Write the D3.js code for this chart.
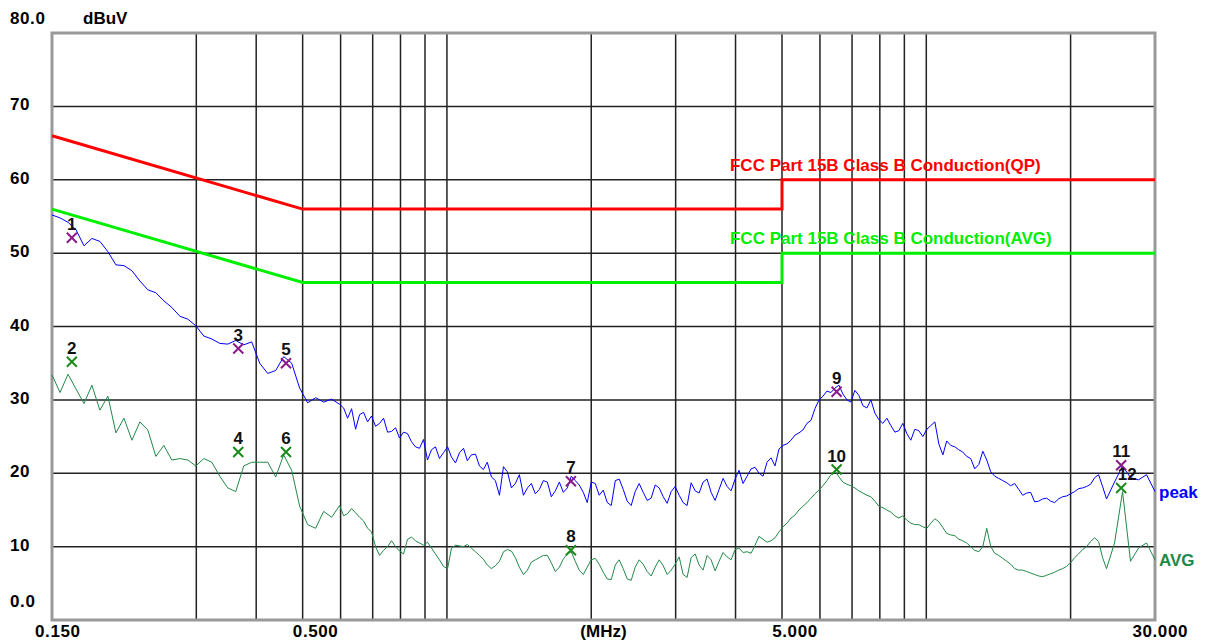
<!DOCTYPE html>
<html>
<head>
<meta charset="utf-8">
<script src="https://cdnjs.cloudflare.com/ajax/libs/d3/7.8.5/d3.min.js"></script>
<style>
  body { margin: 0; background: #fff; }
  text { font-family: "Liberation Sans", Arial, sans-serif; font-weight: bold; }
</style>
</head>
<body>
<div id="vis"></div>
<script>
var margin = {top: 33, right: 53, bottom: 22, left: 52},
    width = 1208 - margin.left - margin.right,
    height = 642 - margin.top - margin.bottom;

// sweep frequencies (MHz)
var freq = [
  0.1500, 0.1559, 0.1620, 0.1683, 0.1749, 0.1817,
  0.1888, 0.1962, 0.2039, 0.2119, 0.2202, 0.2288,
  0.2377, 0.2470, 0.2567, 0.2667, 0.2772, 0.2880,
  0.2993, 0.3110, 0.3232, 0.3358, 0.3489, 0.3626,
  0.3768, 0.3915, 0.4068, 0.4228, 0.4393, 0.4565,
  0.4743, 0.4929, 0.5122, 0.5322, 0.5530, 0.5747,
  0.5972, 0.6205, 0.6448, 0.6700, 0.6962, 0.7235,
  0.7518, 0.7812, 0.8118, 0.8435, 0.8765, 0.9108,
  0.9464, 0.9835, 1.022, 1.062, 1.103, 1.147,
  1.191, 1.238, 1.287, 1.337, 1.389, 1.444,
  1.500, 1.559, 1.620, 1.683, 1.749, 1.817,
  1.888, 1.962, 2.039, 2.119, 2.202, 2.288,
  2.377, 2.470, 2.567, 2.667, 2.772, 2.880,
  2.993, 3.110, 3.232, 3.358, 3.489, 3.626,
  3.768, 3.915, 4.068, 4.228, 4.393, 4.565,
  4.743, 4.929, 5.122, 5.322, 5.530, 5.747,
  5.972, 6.205, 6.448, 6.700, 6.962, 7.235,
  7.518, 7.812, 8.118, 8.435, 8.765, 9.108,
  9.464, 9.835, 10.22, 10.62, 11.03, 11.47,
  11.91, 12.38, 12.87, 13.37, 13.89, 14.44,
  15.00, 15.59, 16.20, 16.83, 17.49, 18.17,
  18.88, 19.62, 20.39, 21.19, 22.02, 22.88,
  23.77, 24.70, 25.67, 26.67, 27.72, 28.80,
  30.00
];

// peak trace (dBuV)
var peak = [
  55.2, 54.8, 54.2, 53.2, 51.0, 52.0, 51.6, 50.2, 48.4, 48.3,
  47.6, 46.2, 45.0, 44.6, 43.5, 42.6, 41.4, 41.0, 40.1, 38.7,
  38.3, 37.7, 37.6, 38.1, 37.5, 37.9, 35.0, 33.6, 34.0, 35.9,
  35.0, 31.6, 29.6, 30.3, 29.7, 30.1, 29.4, 27.5, 26.0, 28.3,
  27.8, 26.8, 25.6, 26.2, 25.6, 24.3, 23.4, 21.8, 23.6, 22.8,
  22.2, 22.8, 21.7, 22.6, 20.5, 19.5, 17.0, 20.2, 18.6, 17.0,
  18.6, 17.8, 18.8, 17.6, 17.4, 19.6, 18.4, 16.0, 18.6, 17.7,
  15.6, 19.2, 16.2, 17.5, 17.4, 16.6, 18.0, 15.9, 18.2, 16.0,
  18.7, 17.3, 19.2, 16.3, 19.3, 17.6, 20.4, 19.6, 20.8, 19.6,
  22.1, 23.3, 24.0, 25.2, 25.9, 27.2, 30.0, 31.2, 31.6, 30.8,
  29.7, 30.6, 28.9, 28.2, 26.8, 26.5, 25.8, 25.4, 26.0, 25.0,
  26.5, 24.0, 24.4, 23.6, 22.9, 22.0, 21.2, 21.8, 19.6, 19.0,
  18.3, 17.8, 17.3, 16.1, 16.5, 16.2, 16.5, 16.9, 17.5, 18.0,
  18.5, 19.8, 16.5, 18.8, 21.0, 19.4, 19.1, 19.8, 17.5
];

// average trace (dBuV)
var avg = [
  33.4, 31.0, 33.5, 31.5, 29.5, 32.0, 28.6, 30.5, 25.5, 27.5,
  24.5, 27.0, 25.9, 22.3, 23.8, 21.8, 22.0, 21.8, 21.0, 22.0,
  21.5, 19.6, 18.0, 17.5, 21.0, 21.5, 21.5, 21.5, 19.5, 22.5,
  20.4, 15.5, 13.0, 12.5, 14.8, 14.0, 15.6, 14.5, 14.6, 13.5,
  12.0, 8.8, 10.0, 10.0, 9.0, 11.3, 10.5, 10.6, 9.0, 7.3,
  9.8, 10.1, 10.3, 9.3, 8.3, 7.0, 8.0, 9.6, 8.5, 6.2,
  7.9, 8.5, 8.8, 6.6, 8.3, 9.3, 6.8, 7.2, 8.4, 6.5,
  5.5, 8.2, 5.6, 7.2, 7.6, 6.0, 8.2, 6.2, 7.6, 6.2,
  8.5, 7.5, 8.8, 6.7, 9.2, 8.2, 9.8, 9.3, 10.2, 11.0,
  10.8, 12.0, 13.2, 14.3, 15.5, 16.6, 17.7, 19.0, 20.3, 18.8,
  18.3, 17.6, 17.0, 16.2, 15.3, 14.7, 13.9, 13.6, 13.0, 12.7,
  13.2, 13.4, 11.8, 11.5, 10.8, 10.0, 9.3, 12.5, 9.1, 8.4,
  7.6, 6.8, 6.6, 6.2, 5.9, 6.3, 6.8, 7.3, 8.5, 9.6,
  10.7, 10.7, 7.0, 10.5, 17.5, 8.0, 9.8, 10.5, 8.2
];

// extra sweep points in between, 0.6 - 23 MHz
var freqMid = [
  0.6088, 0.6325, 0.6573, 0.6830, 0.7097, 0.7375, 0.7664, 0.7963, 0.8275, 0.8598,
  0.8935, 0.9284, 0.9647, 1.003, 1.042, 1.083, 1.124, 1.169, 1.214, 1.262,
  1.312, 1.363, 1.416, 1.472, 1.529, 1.589, 1.651, 1.716, 1.783, 1.852,
  1.925, 2.000, 2.078, 2.160, 2.245, 2.332, 2.423, 2.518, 2.617, 2.719,
  2.826, 2.936, 3.051, 3.170, 3.295, 3.423, 3.557, 3.696, 3.841, 3.991,
  4.147, 4.310, 4.478, 4.653, 4.835, 5.024, 5.221, 5.425, 5.637, 5.858,
  6.088, 6.325, 6.573, 6.830, 7.097, 7.375, 7.664, 7.963, 8.275, 8.598,
  8.935, 9.284, 9.647, 10.03, 10.42, 10.83, 11.24, 11.69, 12.14, 12.62,
  13.12, 13.63, 14.16, 14.72, 15.29, 15.89, 16.51, 17.16, 17.83, 18.52,
  19.25, 20.00, 20.78, 21.60, 22.45, 23.32
];

var peakMid = [
  28.9, 28.8, 28.0, 27.0, 26.4, 27.5, 25.7, 24.8, 25.4, 23.6,
  24.6, 23.2, 22.0, 23.6, 21.4, 23.4, 22.5, 21.0, 21.5, 19.0,
  20.9, 18.0, 19.8, 18.0, 17.2, 19.0, 16.8, 18.8, 18.0, 19.0,
  17.4, 18.8, 17.0, 16.0, 19.0, 17.8, 15.6, 18.6, 16.3, 18.4,
  16.8, 17.5, 17.0, 15.6, 17.6, 18.8, 17.4, 17.8, 18.2, 19.2,
  18.6, 20.6, 20.0, 21.5, 21.0, 23.8, 24.5, 25.5, 26.8, 28.8,
  30.5, 31.0, 32.0, 30.0, 31.3, 29.2, 30.0, 27.3, 27.5, 25.6,
  26.8, 24.5, 25.8, 26.0, 27.0, 22.5, 23.8, 23.2, 22.3, 20.6,
  23.0, 20.2, 19.3, 18.7, 18.6, 17.0, 17.4, 16.2, 16.6, 16.0,
  16.8, 17.2, 17.9, 18.2, 19.4, 18.2
];

var avgMid = [
  14.2, 15.2, 14.0, 12.5, 10.0, 9.5, 10.8, 9.4, 11.0, 10.8,
  10.2, 9.8, 8.2, 7.0, 10.2, 10.0, 9.8, 8.8, 7.5, 7.4,
  9.3, 9.4, 7.2, 6.8, 8.2, 8.8, 7.8, 7.2, 9.0, 8.0,
  6.2, 8.2, 7.6, 5.6, 7.5, 7.0, 5.4, 8.2, 6.6, 7.2,
  7.4, 6.8, 8.6, 5.8, 9.0, 6.8, 8.2, 8.0, 8.6, 9.6,
  9.2, 9.1, 11.4, 10.6, 11.2, 12.7, 13.9, 15.0, 16.0, 17.2,
  18.3, 19.8, 19.5, 18.5, 18.0, 17.3, 16.8, 15.5, 15.0, 14.2,
  14.2, 13.2, 13.0, 12.5, 13.8, 12.6, 11.6, 11.0, 10.5, 9.5,
  10.0, 10.0, 8.8, 8.0, 7.0, 6.8, 6.4, 6.0, 6.1, 6.5,
  7.0, 7.8, 9.0, 10.0, 11.2, 8.5
];

// FCC Part 15B class B limits
var limitFreq = [0.15, 0.5, 5, 5, 30];
var limitQP = [66, 56, 56, 60, 60];
var limitAVG = [56, 46, 46, 50, 50];

// marked points
var markFreq = [0.165, 0.165, 0.367, 0.367, 0.4616, 0.4616, 1.814, 1.814, 6.50, 6.50, 25.5, 25.5];
var markLevel = [52.1, 35.2, 37.0, 22.9, 35.0, 22.9, 18.9, 9.5, 31.1, 20.5, 21.1, 18.0];
var markType = ["peak", "avg", "peak", "avg", "peak", "avg", "peak", "avg", "peak", "avg", "peak", "avg"];

var gridFreq = [0.3, 0.4, 0.5, 0.6, 0.7, 0.8, 0.9, 1, 2, 3, 4, 5, 6, 7, 8, 9, 10, 20];
var gridLevel = [10, 20, 30, 40, 50, 60, 70];
var yTicks = [0, 10, 20, 30, 40, 50, 60, 70, 80];
var xTicks = [0.15, 0.5, 5, 30];
var xTickText = ["0.150", "0.500", "5.000", "30.000"];

// one sorted sweep table
var sweep = d3.zip(freq, peak, avg)
    .concat(d3.zip(freqMid, peakMid, avgMid))
    .sort(function(a, b) { return a[0] - b[0] })

var x = d3.scaleLog().domain([0.15, 30]).range([0, width]);
var y = d3.scaleLinear().domain([0, 80]).range([height, 0]);

var svg = d3.select("#vis").append("svg")
    .attr("width", width + margin.left + margin.right)
    .attr("height", height + margin.top + margin.bottom)
  .append("g")
    .attr("transform", "translate(" + margin.left + "," + margin.top + ")");

// grid
svg.selectAll(".vgrid")
    .data(gridFreq)
    .enter().append("line")
    .attr("x1", function(d) { return x(d) }).attr("x2", function(d) { return x(d) })
    .attr("y1", 0).attr("y2", height)
    .attr("stroke", "#222").attr("stroke-width", 1.5)

svg.selectAll(".hgrid")
    .data(gridLevel)
    .enter().append("line")
    .attr("x1", 0).attr("x2", width)
    .attr("y1", function(d) { return y(d) }).attr("y2", function(d) { return y(d) })
    .attr("stroke", "#222").attr("stroke-width", 1.5)

// frame
svg.append("rect")
    .attr("width", width).attr("height", height)
    .attr("fill", "none").attr("stroke", "#999").attr("stroke-width", 3)

// axis text
svg.selectAll(".ylab")
    .data(yTicks)
    .enter().append("text")
    .attr("x", -42)
    .attr("y", function(d) {
      if (d == 80) return y(d) - 9;
      if (d == 0) return y(d) - 13;
      return y(d) + 4;
    })
    .style("font-size", "17px")
    .style("letter-spacing", "0.6px")
    .text(function(d) { return (d == 80 || d == 0) ? d.toFixed(1) : d })

svg.append("text")
    .attr("x", 31).attr("y", -9)
    .style("font-size", "17px")
    .text("dBuV")

svg.selectAll(".xlab")
    .data(xTicks)
    .enter().append("text")
    .attr("x", function(d, i) {
      if (i == 0) return x(d) - 17;
      if (i == xTicks.length - 1) return x(d) + 33;
      return x(d) + 13;
    })
    .attr("y", height + 17)
    .attr("text-anchor", function(d, i) { return i == 0 ? "start" : (i == xTicks.length - 1 ? "end" : "middle") })
    .style("font-size", "17px")
    .style("letter-spacing", "0.6px")
    .text(function(d, i) { return xTickText[i] })

svg.append("text")
    .attr("x", width / 2).attr("y", height + 17)
    .attr("text-anchor", "middle")
    .style("font-size", "17px")
    .text("(MHz)")

// limit lines
var limLine = d3.line()
    .x(function(d) { return x(d[0]) })
    .y(function(d) { return y(d[1]) })

svg.append("path")
    .datum(d3.zip(limitFreq, limitQP))
    .attr("d", limLine)
    .attr("fill", "none").attr("stroke", "#ff0000").attr("stroke-width", 3)

svg.append("path")
    .datum(d3.zip(limitFreq, limitAVG))
    .attr("d", limLine)
    .attr("fill", "none").attr("stroke", "#00ee00").attr("stroke-width", 3)

svg.append("text")
    .attr("x", x(5) - 52).attr("y", y(60) - 9)
    .style("font-size", "17px")
    .attr("fill", "#ff0000")
    .text("FCC Part 15B Class B Conduction(QP)")

svg.append("text")
    .attr("x", x(5) - 52).attr("y", y(50) - 9)
    .style("font-size", "17px")
    .attr("fill", "#00ee00")
    .text("FCC Part 15B Class B Conduction(AVG)")

// traces
var avgLine = d3.line()
    .x(function(d) { return x(d[0]) })
    .y(function(d) { return y(d[2]) })

svg.append("path")
    .datum(sweep)
    .attr("d", avgLine)
    .attr("fill", "none").attr("stroke", "#22884a").attr("stroke-width", 1)

svg.append("path")
    .datum(sweep)
    .attr("d", limLine)
    .attr("fill", "none").attr("stroke", "#0000ff").attr("stroke-width", 1)

svg.append("text")
    .attr("x", width + 4).attr("y", y(peak[peak.length - 1]) + 6)
    .style("font-size", "17px")
    .attr("fill", "#0000ff")
    .text("peak")

svg.append("text")
    .attr("x", width + 4).attr("y", y(avg[avg.length - 1]) + 6)
    .style("font-size", "17px")
    .attr("fill", "#22884a")
    .text("AVG")

// markers
var marks = svg.selectAll(".mark")
    .data(markFreq)
    .enter().append("g")
    .attr("transform", function(d, i) { return "translate(" + x(d) + "," + y(markLevel[i]) + ")" })

marks.append("path")
    .attr("d", "M-5,-5L5,5M-5,5L5,-5")
    .attr("stroke", function(d, i) { return markType[i] == "peak" ? "#8b1a8b" : "#1a8a1a" })
    .attr("stroke-width", 2)

marks.append("text")
    .attr("x", function(d, i) { return i == 11 ? 6 : 0 })
    .attr("y", -8)
    .attr("text-anchor", "middle")
    .style("font-size", "17px")
    .attr("fill", "#111")
    .text(function(d, i) { return i + 1 })
</script>
</body>
</html>
